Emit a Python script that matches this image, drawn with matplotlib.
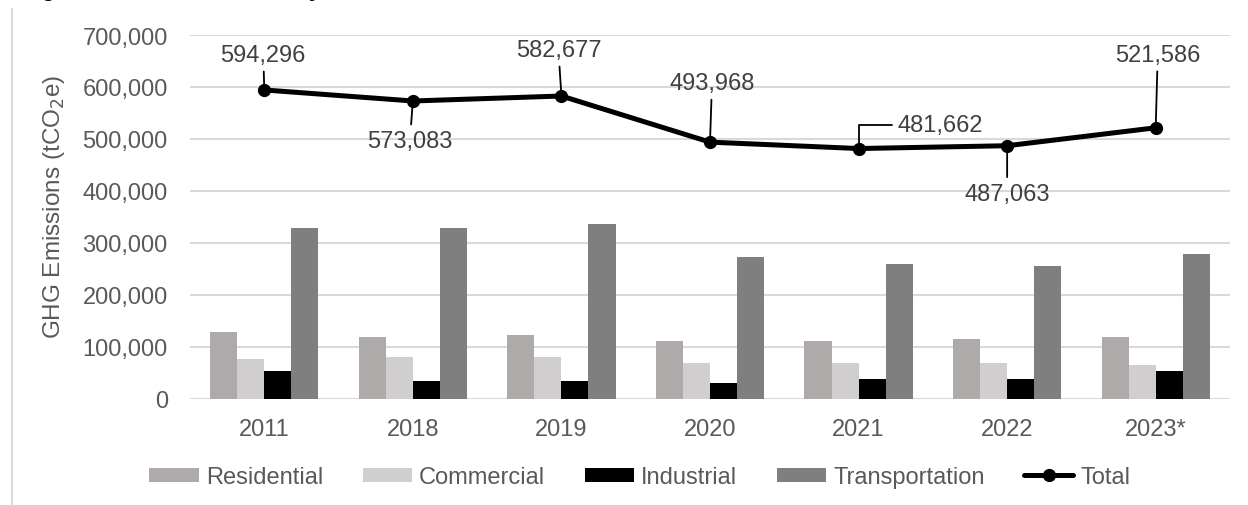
import numpy as np
import matplotlib.pyplot as plt
from matplotlib.lines import Line2D
from matplotlib.ticker import FuncFormatter

plt.rcParams['font.family'] = ['Liberation Sans', 'DejaVu Sans']

# emissions by sector (tCO2e)
years = ["2011", "2018", "2019", "2020", "2021", "2022", "2023*"]
residential = [128000, 120000, 124000, 112500, 112500, 116000, 120000]
commercial = [77500, 81500, 81500, 70000, 70000, 70000, 66000]
industrial = [54500, 35000, 35000, 31500, 39000, 39000, 54500]
transportation = [328000, 328000, 336000, 274000, 259000, 255000, 278000]
total = [594296, 573083, 582677, 493968, 481662, 487063, 521586]

sectors = ["Residential", "Commercial", "Industrial", "Transportation"]
colors = ["#aeaaaa", "#d0cece", "#000000", "#7f7f7f"]

# where each total label sits relative to its point (pixels)
label_offsets = [(-1, 35), (-3, -40), (-3, 46), (2, 59), (82, 24), (0, -48), (2, 73)]

fig = plt.figure(figsize=(12.48, 5.06), dpi=100)
ax = fig.add_axes([190 / 1248, 1 - 400 / 506, 1040 / 1248, 364 / 506])

x = np.arange(len(years))
w = 0.182
handles = []
for k, (name, vals, c) in enumerate(zip(sectors, [residential, commercial, industrial, transportation], colors)):
    b = ax.bar(x + (k - 1.5) * w, vals, width=w, color=c, label=name, zorder=2)
    handles.append(b)

line, = ax.plot(x, total, color="black", lw=3.6, marker="o", markersize=8.5, label="Total", zorder=4,
                solid_capstyle="round")
handles.append(line)

for i, v in enumerate(total):
    dx, dy = label_offsets[i]
    conn = "angle,angleA=0,angleB=90,rad=0" if i == 4 else "arc3"
    ax.annotate(f"{v:,}", xy=(i, v), xytext=(dx, dy), textcoords="offset pixels",
                ha="center", va="center", fontsize=17, color="#404040",
                arrowprops=dict(arrowstyle="-", color="black", lw=1.3,
                                shrinkA=2, shrinkB=0, connectionstyle=conn),
                zorder=5)

ax.set_xlim(-0.5, len(years) - 0.5)
ax.set_ylim(0, 700000)
ax.set_yticks(np.arange(0, 700001, 100000))
ax.yaxis.set_major_formatter(FuncFormatter(lambda v, p: f"{int(v):,}"))
ax.set_xticks(x)
ax.set_xticklabels(years)
ax.grid(axis="y", color="#d9d9d9", lw=1.5, zorder=0)
ax.set_axisbelow(True)
for s in ax.spines.values():
    s.set_visible(False)
ax.tick_params(axis="both", length=0, labelsize=17, colors="#595959")
ax.tick_params(axis="y", pad=16)
ax.tick_params(axis="x", pad=14)

ax.set_ylabel("GHG Emissions (tCO$_2$e)", fontsize=17.5, color="#595959")
ax.yaxis.set_label_coords(-0.118, 0.53)

fig.legend(handles, sectors + ["Total"], loc="center", bbox_to_anchor=(640 / 1248, 1 - 478 / 506),
           ncol=5, frameon=False, fontsize=17, labelcolor="#595959", handlelength=2.1,
           handleheight=0.55, handletextpad=0.3, columnspacing=1.66)

# title, cut off at the top edge
fig.text(22 / 1248, 1 + 4 / 506, "Figure 2: GHG Emissions by Sector", fontsize=16,
         fontweight="bold", color="black", va="baseline", ha="left")

# thin frame line on the left
fig.add_artist(Line2D([12 / 1248, 12 / 1248], [1 - 10 / 506, 0], transform=fig.transFigure,
                      color="#d9d9d9", lw=1.5))

fig.savefig("out.png", dpi=100)
